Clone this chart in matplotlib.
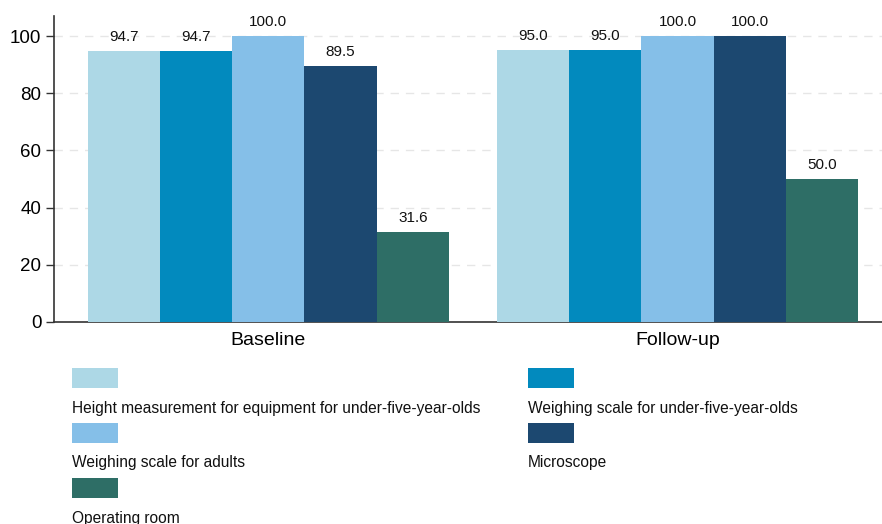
import matplotlib
matplotlib.use("Agg")
import matplotlib.pyplot as plt
from matplotlib.patches import Rectangle
import numpy as np

plt.rcParams['font.family'] = ['Liberation Sans', 'DejaVu Sans']

periods = ["Baseline", "Follow-up"]
equipment = [
    "Height measurement for equipment for under-five-year-olds",
    "Weighing scale for under-five-year-olds",
    "Weighing scale for adults",
    "Microscope",
    "Operating room",
]
baseline = [94.7, 94.7, 100.0, 89.5, 31.6]
follow_up = [95.0, 95.0, 100.0, 100.0, 50.0]
colors = ["#ADD8E6", "#028ABE", "#85BFE8", "#1C4870", "#2E6E66"]

values = np.array([baseline, follow_up])  # rows: periods, cols: equipment

fig = plt.figure(figsize=(8.82, 5.24), dpi=100)
ax = fig.add_axes([0.0612, 0.3855, 0.9388, 0.584])

x = np.arange(len(periods))
width = 0.1766
n = len(equipment)
for i, (name, col) in enumerate(zip(equipment, colors)):
    pos = x + (i - (n - 1) / 2) * width
    bars = ax.bar(pos, values[:, i], width=width, color=col, zorder=3, linewidth=0)
    for b, v in zip(bars, values[:, i]):
        ax.annotate(f"{v:.1f}", (b.get_x() + b.get_width() / 2, v),
                    xytext=(0, 5), textcoords="offset points",
                    ha="center", va="bottom", fontsize=11, color="#111111")

ax.set_xlim(-0.524, 1.5)
ax.set_ylim(0, 107)
ax.set_yticks([0, 20, 40, 60, 80, 100])
ax.tick_params(axis="y", labelsize=13.5, length=6, width=1, color="#333333", pad=3)
ax.set_xticks(x)
ax.set_xticklabels(periods, fontsize=14)
ax.tick_params(axis="x", length=0, pad=7)
ax.yaxis.grid(True, linestyle=(0, (6, 5)), color="#E6E6E6", linewidth=1, zorder=0)
for s in ["top", "right"]:
    ax.spines[s].set_visible(False)
for s in ["left", "bottom"]:
    ax.spines[s].set_color("#333333")
    ax.spines[s].set_linewidth(1.2)

# Legend: swatch above label, two columns
W, H = 882, 524
col_x = [72, 528]
row_y = [368, 423, 478]
for i, (name, col) in enumerate(zip(equipment, colors)):
    cx = col_x[i % 2]
    ry = row_y[i // 2]
    fig.add_artist(Rectangle((cx / W, 1 - (ry + 20) / H), 46 / W, 20 / H,
                             transform=fig.transFigure, color=col, linewidth=0))
    fig.text(cx / W, 1 - (ry + 40) / H, name, fontsize=11.2,
             ha="left", va="center", color="#111111")

fig.savefig("out.png", dpi=100)
